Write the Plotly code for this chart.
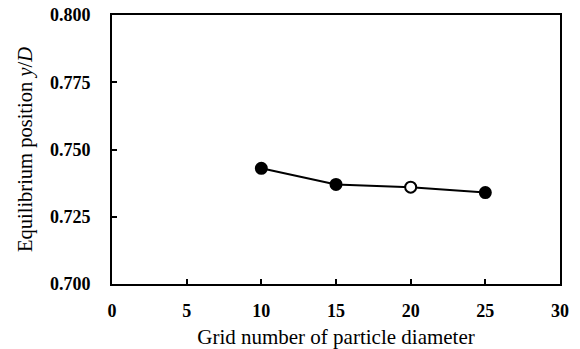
import plotly.graph_objects as go

grid_numbers = [10, 15, 20, 25]
positions = [0.743, 0.737, 0.736, 0.734]
marker_fill = ["black", "black", "white", "black"]

x_ticks = [0, 5, 10, 15, 20, 25, 30]
y_ticks = [0.700, 0.725, 0.750, 0.775, 0.800]

fig = go.Figure()
fig.add_trace(go.Scatter(
    x=grid_numbers, y=positions, mode="lines+markers",
    line=dict(color="black", width=2),
    marker=dict(size=11, color=marker_fill, line=dict(color="black", width=2)),
    showlegend=False,
))

font_family = "Liberation Serif"
fig.update_layout(
    width=580, height=349,
    margin=dict(l=112, r=20, t=15, b=65),
    paper_bgcolor="white", plot_bgcolor="white",
    font=dict(family=font_family, color="black"),
    xaxis=dict(
        range=[0, 30], tickvals=x_ticks, ticktext=[f"<b>{v}</b>" for v in x_ticks],
        ticks="inside", ticklen=5, tickwidth=1.5, tickcolor="black",
        showline=True, linecolor="black", linewidth=2, mirror=True,
        showgrid=False, zeroline=False, ticklabelstandoff=9, automargin=False,
        tickfont=dict(size=18, family=font_family),
        title=dict(text="Grid number of particle diameter", font=dict(size=21), standoff=13),
    ),
    yaxis=dict(
        range=[0.700, 0.800], tickvals=y_ticks, ticktext=[f"<b>{v:.3f}</b>" for v in y_ticks],
        ticks="inside", ticklen=5, tickwidth=1.5, tickcolor="black",
        showline=True, linecolor="black", linewidth=2, mirror=True,
        showgrid=False, zeroline=False, ticklabelstandoff=16, automargin=False,
        tickfont=dict(size=18, family=font_family),
        title=dict(text="Equilibrium position <i>y</i>/<i>D</i>", font=dict(size=20.5), standoff=12),
    ),
)

fig.write_html("out.html")
